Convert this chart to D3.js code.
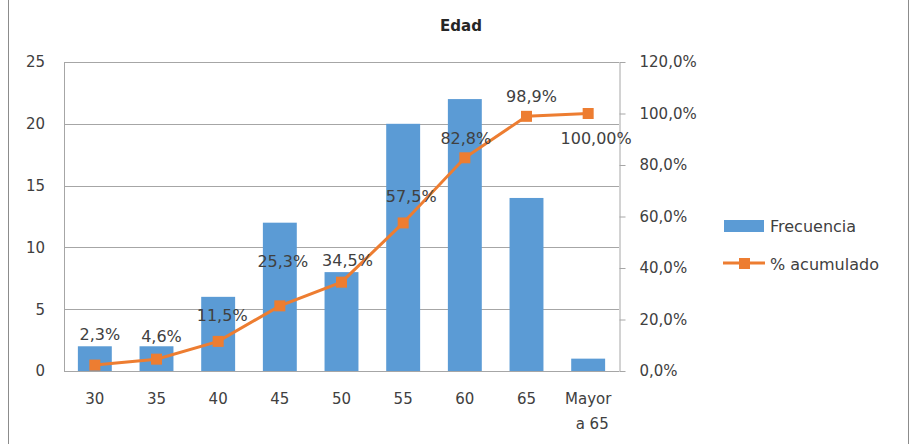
<html>
  <style>
    body { margin: 0; background: #fff; }
    svg { font-family: "DejaVu Sans", Sans-Serif; }
    .tick text { fill: #404040; font-size: 15px; font-family: "DejaVu Sans", Sans-Serif; }
    .label { fill: #404040; font-size: 16px; text-anchor: middle; }
    .legend text { fill: #404040; font-size: 16px; }
  </style>
  <head>
    <script src="https://d3js.org/d3.v7.min.js"></script>
    <meta charset="UTF-8" />
    <title>Edad</title>
  </head>
  <body>
    <div id="chart"></div>
    <script>
      // data
      var categorias = ["30", "35", "40", "45", "50", "55", "60", "65", "Mayor a 65"];
      var frecuencia = [2, 2, 6, 12, 8, 20, 22, 14, 1];
      var acumulado = [0.023, 0.046, 0.115, 0.253, 0.345, 0.575, 0.828, 0.989, 1.0];
      var etiquetas = ["2,3%", "4,6%", "11,5%", "25,3%", "34,5%", "57,5%", "82,8%", "98,9%", "100,00%"];
      var ticksIzq = [0, 5, 10, 15, 20, 25];
      var ticksDer = [0, 0.2, 0.4, 0.6, 0.8, 1.0, 1.2];

      // label placement (excel puts them a bit wherever)
      var labelOffsets = [[5, -25], [5, -17], [4, -20], [3, -39], [6, -16], [8, -21], [1, -14], [5, -14], [8, 30]];

      var width = 912, height = 444;
      var pLeft = 64, pRight = 619, pTop = 62, pBottom = 371;
      var azul = "#5B9BD5", naranja = "#ED7D31", gris = "#a6a6a6";

      var svg = d3.select("#chart").append("svg")
        .attr("width", width)
        .attr("height", height);

      // frame
      svg.append("rect")
        .attr("x", 8.5).attr("y", -5)
        .attr("width", 900).attr("height", height + 10)
        .attr("fill", "none").attr("stroke", "#8c8c8c");

      svg.append("text")
        .attr("x", 461).attr("y", 31)
        .attr("text-anchor", "middle")
        .attr("font-weight", "bold")
        .attr("font-size", "15px")
        .attr("fill", "#262626")
        .text("Edad");

      /* Scales */
      var x = d3.scaleBand()
        .domain(categorias)
        .range([pLeft, pRight])
        .paddingInner(0.45)
        .paddingOuter(0.225);

      var y = d3.scaleLinear().domain([0, 25]).range([pBottom, pTop]);
      var y2 = d3.scaleLinear().domain([0, 1.2]).range([pBottom, pTop]);

      /* Gridlines */
      svg.append("g").selectAll("line")
        .data(ticksIzq).enter()
        .append("line")
        .attr("x1", pLeft).attr("x2", pRight)
        .attr("y1", d => Math.round(y(d)) + 0.5)
        .attr("y2", d => Math.round(y(d)) + 0.5)
        .attr("stroke", gris);

      svg.append("line")
        .attr("x1", pLeft + 0.5).attr("x2", pLeft + 0.5)
        .attr("y1", pTop).attr("y2", pBottom)
        .attr("stroke", gris);

      /* Axes */
      var yAxis = d3.axisLeft(y).tickValues(ticksIzq).tickSize(0).tickPadding(19);
      svg.append("g")
        .attr("transform", `translate(${pLeft}, 0)`)
        .call(yAxis)
        .call(g => g.select(".domain").remove());

      var fmt = d => d3.format(".1f")(d * 100).replace(".", ",") + "%";
      var yAxis2 = d3.axisRight(y2).tickValues(ticksDer).tickSize(6).tickSizeOuter(0).tickPadding(14).tickFormat(fmt);
      svg.append("g")
        .attr("transform", `translate(${pRight + 0.5}, 0)`)
        .call(yAxis2)
        .call(g => g.selectAll("line, path").attr("stroke", gris));

      var xAxis = d3.axisBottom(x).tickSize(0).tickPadding(0);
      svg.append("g")
        .attr("transform", `translate(0, ${pBottom})`)
        .call(xAxis)
        .call(g => g.select(".domain").remove())
        .selectAll(".tick text")
        .each(function(d) {
          var t = d3.select(this).text(null).attr("y", 0).attr("dy", null);
          d.split(/ (?=a )/).forEach((p, i) => {
            t.append("tspan").attr("x", i ? 4 : 0).attr("y", 33 + i * 25).text(p);
          });
        });

      /* Bars */
      svg.append("g").selectAll("rect")
        .data(frecuencia).enter()
        .append("rect")
        .attr("x", (d, i) => x(categorias[i]))
        .attr("y", d => y(d))
        .attr("width", x.bandwidth())
        .attr("height", d => y(0) - y(d))
        .attr("fill", azul);

      svg.append("line")
        .attr("x1", pLeft).attr("x2", pRight)
        .attr("y1", Math.round(y(0)) + 0.5).attr("y2", Math.round(y(0)) + 0.5)
        .attr("stroke", gris);

      /* Line + markers */
      var cx = i => x(categorias[i]) + x.bandwidth() / 2;
      var line = d3.line()
        .x((d, i) => cx(i))
        .y(d => y2(d));

      svg.append("path")
        .attr("d", line(acumulado))
        .attr("fill", "none")
        .attr("stroke", naranja)
        .attr("stroke-width", 3);

      svg.append("g").selectAll("rect")
        .data(acumulado).enter()
        .append("rect")
        .attr("x", (d, i) => cx(i) - 5.5)
        .attr("y", d => y2(d) - 5.5)
        .attr("width", 11).attr("height", 11)
        .attr("fill", naranja);

      svg.append("g").selectAll("text")
        .data(etiquetas).enter()
        .append("text")
        .attr("class", "label")
        .attr("x", (d, i) => cx(i) + labelOffsets[i][0])
        .attr("y", (d, i) => y2(acumulado[i]) + labelOffsets[i][1])
        .text(d => d);

      /* Legend */
      var legend = svg.append("g").attr("class", "legend");
      legend.append("rect")
        .attr("x", 724).attr("y", 220)
        .attr("width", 40).attr("height", 12)
        .attr("fill", azul);
      legend.append("text").attr("x", 770).attr("y", 232).text("Frecuencia");
      legend.append("line")
        .attr("x1", 723).attr("x2", 765)
        .attr("y1", 263).attr("y2", 263)
        .attr("stroke", naranja).attr("stroke-width", 3);
      legend.append("rect")
        .attr("x", 739).attr("y", 258)
        .attr("width", 11).attr("height", 11)
        .attr("fill", naranja);
      legend.append("text").attr("x", 770).attr("y", 270).text("% acumulado");
    </script>
  </body>
</html>
